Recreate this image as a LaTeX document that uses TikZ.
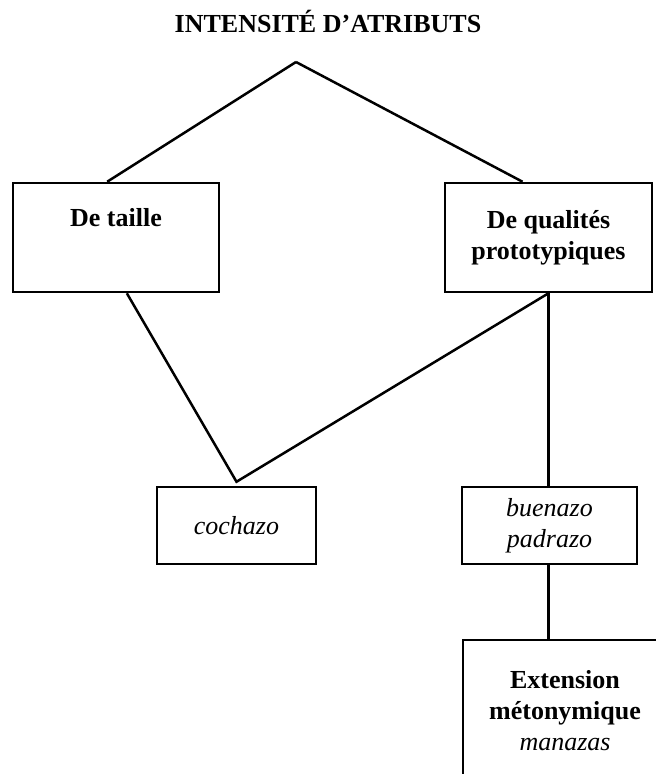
\documentclass[tikz,border=0pt]{standalone}
\usepackage{fontspec}
\setmainfont{Liberation Serif}

\begin{document}
\begin{tikzpicture}[
        x=0.5pt, y=-0.5pt,
        every node/.style={font=\fontsize{13}{15.5}\selectfont, align=center, inner sep=0pt},
        nodebox/.style={rectangle, draw=black, line width=1.25pt},
        nodetitre/.style={font=\fontsize{13}{15.5}\selectfont\bfseries},
        trait/.style={draw, line width=1.25pt}
        ]
        \useasboundingbox (0,0) rectangle (656,774);
        \clip (0,0) rectangle (656,774);

        \node [nodetitre, anchor=base] (titre) at (328,33) {INTENSITÉ D’ATRIBUTS};
        \coordinate (sommet) at (296,62);

        \node [nodebox, minimum width=103pt, minimum height=54.5pt] (taille) at (116,237.5) {\textbf{De taille}\\ \strut};
        \node [nodebox, minimum width=103.5pt, minimum height=54.5pt] (qualites) at (548.5,237.5) {\textbf{De qualités}\\ \textbf{prototypiques}};

        \node [nodebox, minimum width=79.5pt, minimum height=38.5pt] (cochazo) at (236.5,525.5) {\textit{cochazo}};
        \node [nodebox, minimum width=87.5pt, minimum height=38.5pt] (buenazo) at (549.5,525.5) {\textit{buenazo}\\ \textit{padrazo}};

        % la boite du bas sort de l'image
        \node [nodebox, minimum width=102pt, minimum height=71pt] (extension) at (565,711) {\textbf{Extension}\\ \textbf{métonymique}\\ \textit{manazas}};

        \draw [trait] (sommet) -- (taille.99);
        \draw [trait] (sommet) -- (qualites.115);

        \coordinate (jonction) at ([yshift=2pt]cochazo.north);
        \draw [trait] (taille.281) -- (jonction) -- (qualites.south);
        \draw [trait] (qualites.south) -- (qualites.south |- buenazo.north);
        \draw [trait] (qualites.south |- buenazo.south) -- (qualites.south |- extension.north);
    \end{tikzpicture}
\end{document}
